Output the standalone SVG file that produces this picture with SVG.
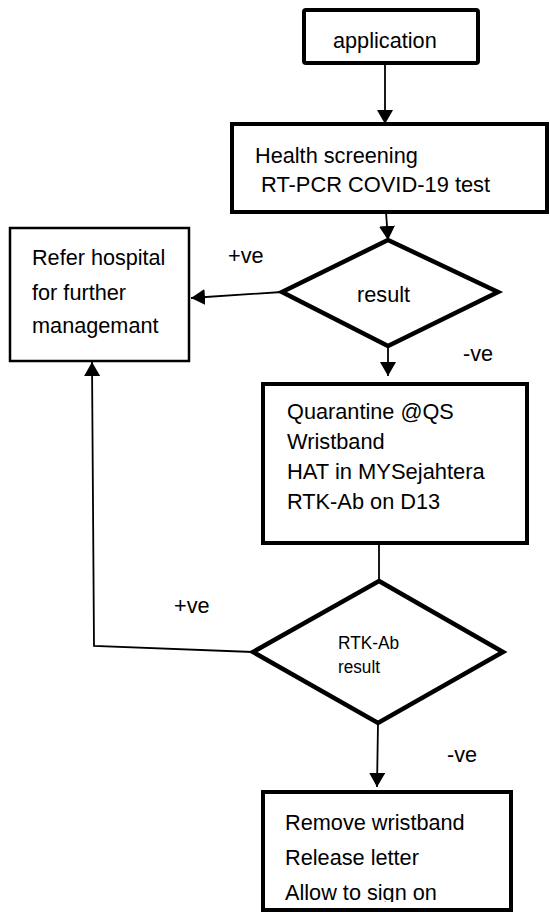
<svg xmlns="http://www.w3.org/2000/svg" width="550" height="913" viewBox="0 0 550 913">
<style>
text{font-family:"Liberation Sans",Arial,sans-serif;font-size:22.8px;fill:#000}
.small{font-size:17.5px}
.box{fill:#fff;stroke:#000;stroke-width:4}
.thin{fill:#fff;stroke:#000;stroke-width:2.5}
.dia{fill:#fff;stroke:#000;stroke-width:4.5;stroke-linejoin:miter}
.conn{fill:none;stroke:#000;stroke-width:1.8}
</style>
<defs>
<marker id="arr" markerUnits="userSpaceOnUse" markerWidth="14" markerHeight="16" refX="14" refY="8" orient="auto">
<path d="M0,0 L14,8 L0,16 z" fill="#000"/>
</marker>
<clipPath id="clipLast"><rect x="0" y="0" width="550" height="902"/></clipPath>
</defs>
<rect x="0" y="0" width="550" height="913" fill="#fff"/>
<g id="connectors">
<line class="conn" x1="385" y1="63" x2="385" y2="124" marker-end="url(#arr)"/>
<line class="conn" x1="386" y1="212" x2="388" y2="240" marker-end="url(#arr)"/>
<line class="conn" x1="282" y1="292" x2="191" y2="298" marker-end="url(#arr)"/>
<line class="conn" x1="388" y1="346" x2="388" y2="376" marker-end="url(#arr)"/>
<line class="conn" x1="379" y1="543" x2="379" y2="581"/>
<polyline class="conn" points="253,652 94,646 92,362" marker-end="url(#arr)"/>
<line class="conn" x1="378" y1="723" x2="377" y2="787" marker-end="url(#arr)"/>
<text x="228" y="263" textLength="35.6" lengthAdjust="spacingAndGlyphs">+ve</text>
<text x="463" y="361" textLength="30.1" lengthAdjust="spacingAndGlyphs">-ve</text>
<text x="174" y="613" textLength="35.6" lengthAdjust="spacingAndGlyphs">+ve</text>
<text x="447" y="762" textLength="30.1" lengthAdjust="spacingAndGlyphs">-ve</text>
</g>
<g id="application">
<rect class="box" x="304" y="10" width="174" height="53" rx="2"/>
<text x="333" y="48" textLength="103.7" lengthAdjust="spacingAndGlyphs">application</text>
</g>
<g id="health">
<rect class="box" x="232" y="124" width="315" height="88"/>
<text x="255" y="163" textLength="162.8" lengthAdjust="spacingAndGlyphs">Health screening</text>
<text x="261" y="192" textLength="229.1" lengthAdjust="spacingAndGlyphs">RT-PCR COVID-19 test</text>
</g>
<g id="result">
<polygon class="dia" points="388,240 498,292 388,346 282,292"/>
<text x="357" y="302" textLength="53.1" lengthAdjust="spacingAndGlyphs">result</text>
</g>
<g id="refer">
<rect class="thin" x="10" y="228" width="179" height="133"/>
<text x="32" y="265" textLength="133.4" lengthAdjust="spacingAndGlyphs">Refer hospital</text>
<text x="32" y="300" textLength="94.1" lengthAdjust="spacingAndGlyphs">for further</text>
<text x="32" y="333" textLength="126.6" lengthAdjust="spacingAndGlyphs">managemant</text>
</g>
<g id="quarantine">
<rect class="box" x="263" y="384" width="264" height="159"/>
<text x="287" y="419" textLength="166.8" lengthAdjust="spacingAndGlyphs">Quarantine @QS</text>
<text x="287" y="449" textLength="97.7" lengthAdjust="spacingAndGlyphs">Wristband</text>
<text x="287" y="479" textLength="197.8" lengthAdjust="spacingAndGlyphs">HAT in MYSejahtera</text>
<text x="287" y="509" textLength="153.2" lengthAdjust="spacingAndGlyphs">RTK-Ab on D13</text>
</g>
<g id="rtk">
<polygon class="dia" points="379,581 503,652 378,723 253,652"/>
<text class="small" x="338" y="649" textLength="61" lengthAdjust="spacingAndGlyphs">RTK-Ab</text>
<text class="small" x="338" y="673" textLength="42" lengthAdjust="spacingAndGlyphs">result</text>
</g>
<g id="release">
<rect class="box" x="263" y="792" width="248" height="118"/>
<text x="285" y="830" textLength="179.7" lengthAdjust="spacingAndGlyphs">Remove wristband</text>
<text x="285" y="865" textLength="133.9" lengthAdjust="spacingAndGlyphs">Release letter</text>
<text x="285" y="900" textLength="151.9" lengthAdjust="spacingAndGlyphs" clip-path="url(#clipLast)">Allow to sign on</text>
</g>
</svg>
